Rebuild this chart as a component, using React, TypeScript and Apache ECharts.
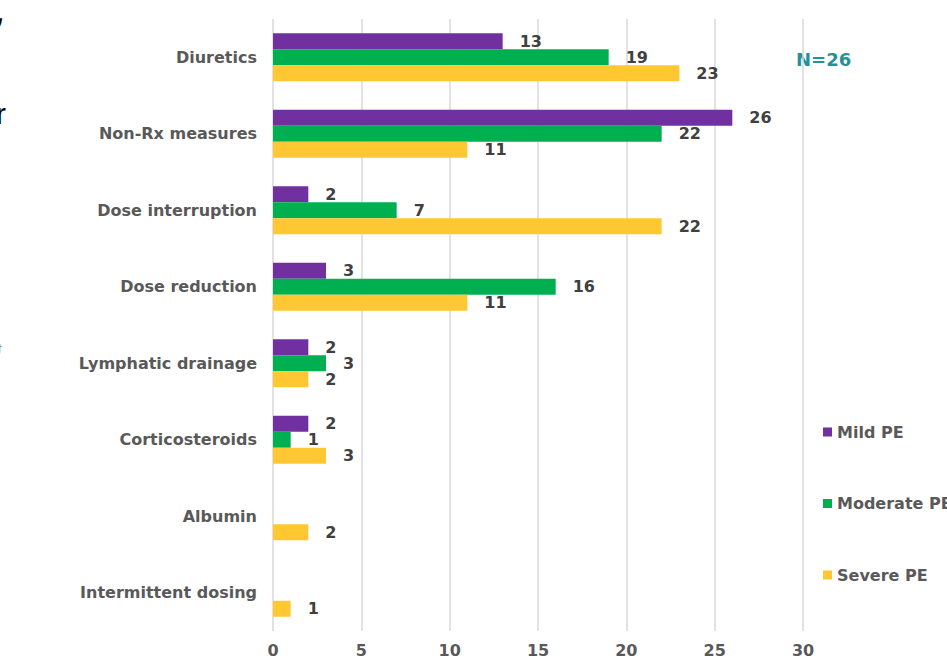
import React, { useEffect, useRef } from "react";
import * as echarts from "echarts";

const categories = [
  "Diuretics",
  "Non-Rx measures",
  "Dose interruption",
  "Dose reduction",
  "Lymphatic drainage",
  "Corticosteroids",
  "Albumin",
  "Intermittent dosing",
];
const mildPE: (number | null)[] = [13, 26, 2, 3, 2, 2, null, null];
const moderatePE: (number | null)[] = [19, 22, 7, 16, 3, 1, null, null];
const severePE: (number | null)[] = [23, 11, 22, 11, 2, 3, 2, 1];
const xTicks = [0, 5, 10, 15, 20, 25, 30];
const seriesNames = ["Mild PE", "Moderate PE", "Severe PE"];
const colors = ["#7030A0", "#00B050", "#FFC731"];

const FONT = "DejaVu Sans";

export default function App() {
  const ref = useRef<HTMLDivElement>(null);
  useEffect(() => {
    if (!ref.current) return;
    const chart = echarts.init(ref.current, null, { renderer: "svg" });
    const label = {
      show: true,
      position: "right" as const,
      distance: 17,
      color: "#404040",
      fontFamily: FONT,
      fontWeight: "bold" as const,
      fontSize: 16,
    };
    const data = [mildPE, moderatePE, severePE];
    chart.setOption({
      animation: false,
      backgroundColor: "#ffffff",
      grid: { left: 273, top: 19, width: 530, height: 612, containLabel: false },
      xAxis: {
        type: "value",
        min: xTicks[0],
        max: xTicks[xTicks.length - 1],
        interval: 5,
        axisLine: { show: false },
        axisTick: { show: false },
        splitLine: { show: true, lineStyle: { color: "#D9D9D9", width: 1.5 } },
        axisLabel: {
          margin: 11,
          color: "#595959",
          fontFamily: FONT,
          fontWeight: "bold",
          fontSize: 16,
        },
      },
      yAxis: {
        type: "category",
        inverse: true,
        data: categories,
        axisLine: { show: false },
        axisTick: { show: false },
        splitLine: { show: false },
        axisLabel: {
          margin: 16,
          color: "#595959",
          fontFamily: FONT,
          fontWeight: "bold",
          fontSize: 16,
        },
      },
      legend: {
        orient: "vertical",
        left: 823,
        top: 424,
        padding: 0,
        itemWidth: 9,
        itemHeight: 9,
        itemGap: 55.5,
        icon: "rect",
        data: seriesNames,
        textStyle: {
          color: "#595959",
          fontFamily: FONT,
          fontWeight: "bold",
          fontSize: 16,
        },
      },
      series: seriesNames.map((name, i) => ({
        name,
        type: "bar",
        data: data[i],
        barWidth: 16,
        barGap: "0%",
        itemStyle: { color: colors[i] },
        label,
      })),
      graphic: [
        {
          type: "text",
          x: 796,
          y: 50,
          style: {
            text: "N=26",
            fill: "#26909A",
            font: `bold 18px "${FONT}"`,
          },
        },
        {
          type: "text",
          x: -4,
          y: 98,
          style: { text: "r", fill: "#000000", font: `30px "Liberation Sans"` },
        },
        {
          type: "text",
          x: -4,
          y: -4,
          style: { text: ",", fill: "#000000", font: `italic bold 32px "Liberation Sans"` },
        },
        {
          type: "text",
          x: -3,
          y: 343,
          style: { text: "†", fill: "#808080", font: `10px "Liberation Sans"` },
        },
      ],
    });
    return () => chart.dispose();
  }, []);
  return (
    <div
      ref={ref}
      style={{ position: "absolute", left: 0, top: 0, width: 947, height: 658 }}
    />
  );
}
